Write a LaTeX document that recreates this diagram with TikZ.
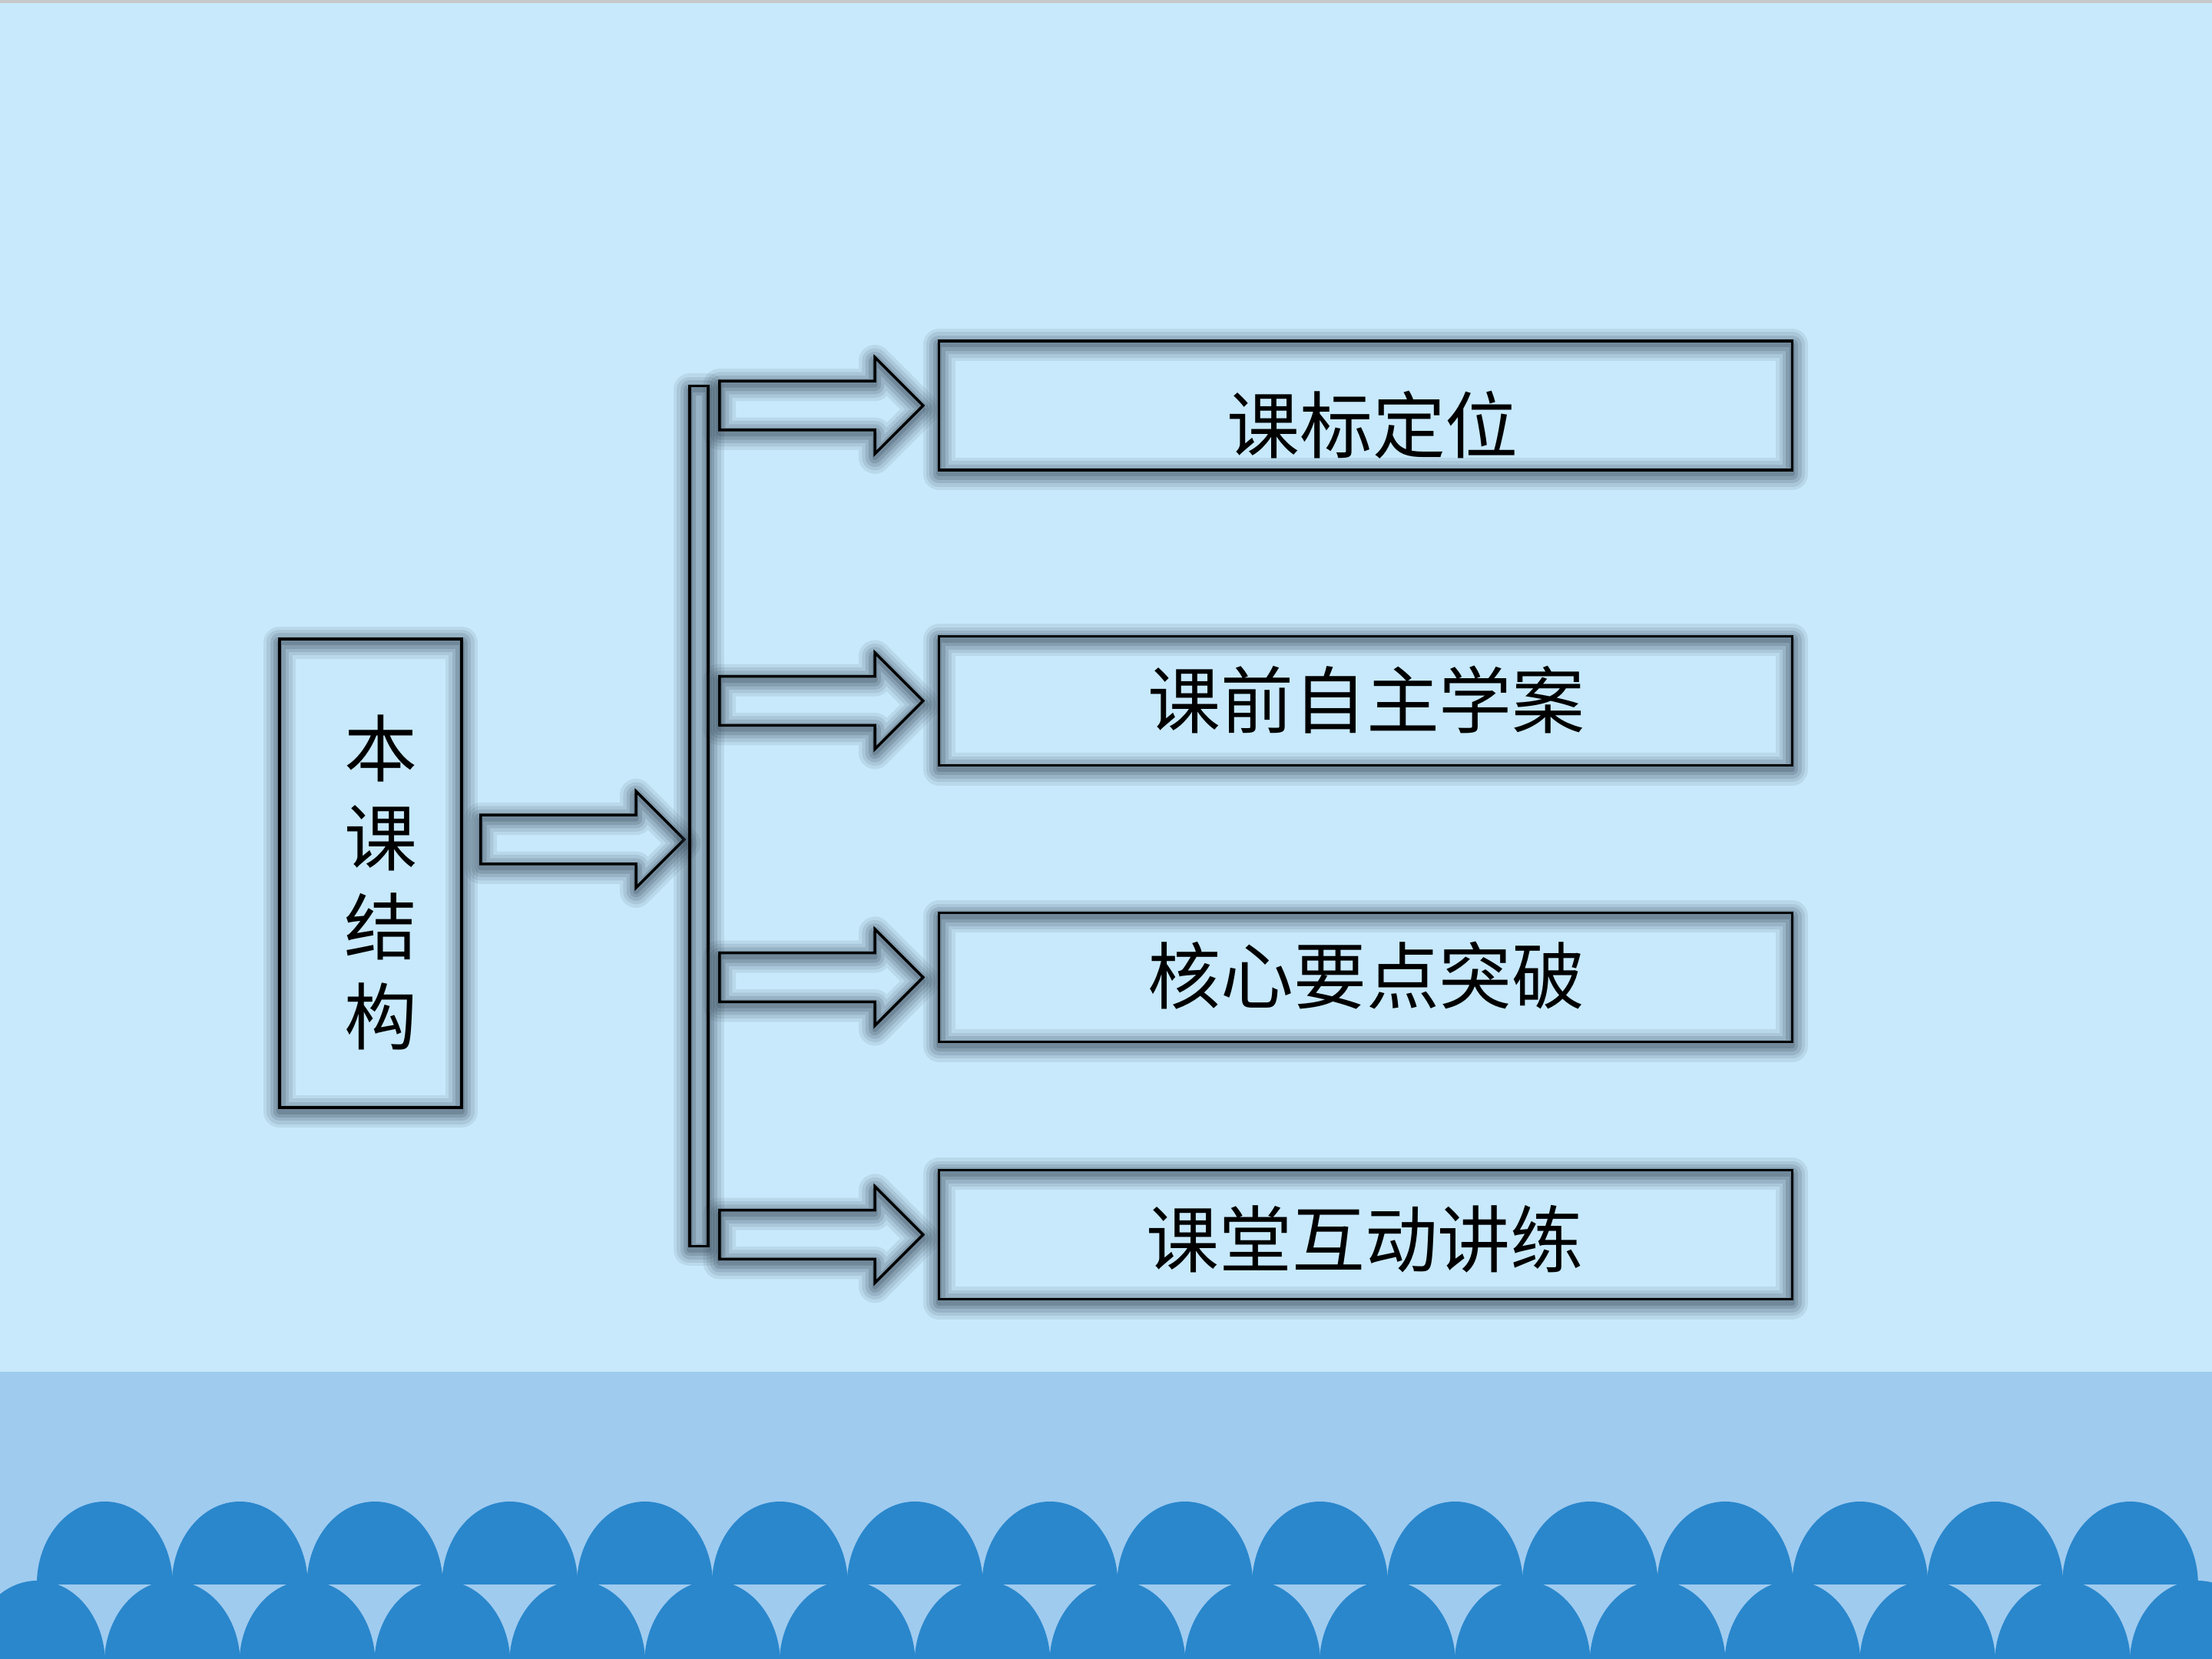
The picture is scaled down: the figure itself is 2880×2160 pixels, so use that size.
\documentclass[tikz,border=0pt]{standalone}
\usepackage{fontspec}
\newfontfamily\cjk{Noto Sans CJK SC}
\usetikzlibrary{shapes.arrows}
\definecolor{bgc}{HTML}{C7E9FB}
\definecolor{bandc}{HTML}{9FCBEF}
\definecolor{scal}{HTML}{2A87CC}
\definecolor{shc}{HTML}{2C3C4C}
\definecolor{topc}{HTML}{C6C8CA}
\tikzset{
  shadowed/.style={
    preaction={draw=shc, line join=round, line width=12pt, opacity=0.09, transform canvas={yshift=-1.4pt}},
    preaction={draw=shc, line join=round, line width=9.5pt, opacity=0.11, transform canvas={yshift=-1.4pt}},
    preaction={draw=shc, line join=round, line width=7pt, opacity=0.14, transform canvas={yshift=-1.4pt}},
    preaction={draw=shc, line join=round, line width=4.5pt, opacity=0.17, transform canvas={yshift=-1.4pt}},
    preaction={draw=shc, line join=round, line width=2pt, opacity=0.22, transform canvas={yshift=-1.4pt}}
  },
  boxnode/.style={shadowed, draw=black, line width=1pt, rectangle, inner sep=0pt,
    minimum width=11.10cm, minimum height=1.68cm},
  barrow/.style={shadowed, draw=black, line width=1pt, single arrow,
    single arrow head extend=0.31cm, minimum width=1.22cm, minimum height=2.65cm,
    inner xsep=0pt, inner ysep=0.30cm, anchor=tail},
  txt/.style={font=\cjk\fontsize{27}{33}\selectfont, inner sep=0pt, align=center, text=black}
}
\begin{document}
\begin{tikzpicture}[x=0.01cm, y=0.01cm]
\useasboundingbox (0,0) rectangle (2880,2160);
\begin{scope}
\clip (0,0) rectangle (2880,2160);
% background
\fill[bgc] (0,0) rectangle (2880,2160);
\fill[topc] (0,2156) rectangle (2880,2160);
\fill[bandc] (0,0) rectangle (2880,374);
% scallops
\foreach \k in {0,...,15} {
  \fill[scal] ({136.4+175.8*\k-88.5},97) arc[start angle=180, end angle=0, x radius=88.5, y radius=108] -- cycle;
}
\foreach \k in {0,...,16} {
  \fill[scal] ({48.5+175.8*\k-88.5},-6) arc[start angle=180, end angle=0, x radius=88.5, y radius=108] -- cycle;
}
\end{scope}

% left box
\node[boxnode, minimum width=2.37cm, minimum height=6.10cm] (lb) at (482.5,1023) {};
\node[txt] (lbt) at (496,1011) {本\\课\\结\\构};

% main arrow
\node[barrow] (ma) at (624,1067) {};

% vertical bar
\node[shadowed, draw=black, line width=1pt, rectangle, inner sep=0pt,
      minimum width=0.24cm, minimum height=11.19cm] (bar) at (910,1097.5) {};

% right boxes
\node[boxnode] (b1) at (1778,1632) {};
\node[boxnode] (b2) at (1778,1247.5) {};
\node[boxnode] (b3) at (1778,887.5) {};
\node[boxnode] (b4) at (1778,552.5) {};

% small arrows
\node[barrow] (a1) at (935,1632) {};
\node[barrow] (a2) at (935,1247.5) {};
\node[barrow] (a3) at (935,887.5) {};
\node[barrow] (a4) at (935,552.5) {};

% texts
\node[txt] (t1) at (1787,1607) {课标定位};
\node[txt] (t2) at (1779,1249) {课前自主学案};
\node[txt] (t3) at (1779,890) {核心要点突破};
\node[txt] (t4) at (1777,547) {课堂互动讲练};
\end{tikzpicture}
\end{document}
